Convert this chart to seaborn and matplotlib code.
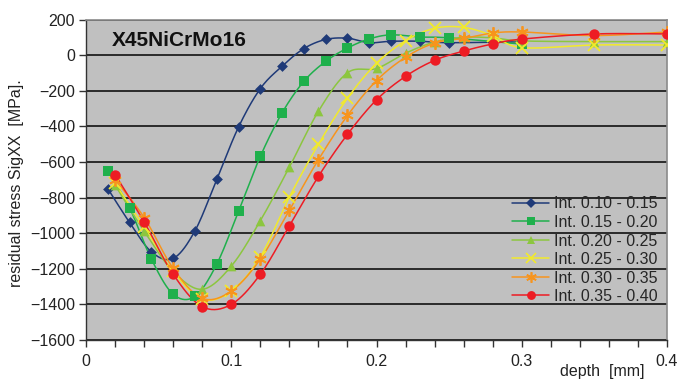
import numpy as np
import pandas as pd
import seaborn as sns
import matplotlib
matplotlib.use("Agg")
import matplotlib.pyplot as plt
from matplotlib.lines import Line2D
from matplotlib.ticker import MultipleLocator

# depth [mm] and residual stress [MPa]
x_a = [0.015, 0.03, 0.045, 0.06, 0.075, 0.09, 0.105, 0.12, 0.135, 0.15, 0.165, 0.18, 0.195, 0.21, 0.23, 0.25, 0.30]
x_b = [0.02, 0.04, 0.06, 0.08, 0.10, 0.12, 0.14, 0.16, 0.18, 0.20, 0.22, 0.24, 0.26, 0.28, 0.30, 0.35, 0.40]

int_010_015 = [-750, -940, -1105, -1142, -987, -698, -404, -188, -62, 37, 88, 95, 70, 78, 78, 70, 75]
int_015_020 = [-651, -858, -1146, -1343, -1355, -1174, -877, -569, -324, -147, -35, 40, 91, 114, 102, 97, 62]
int_020_025 = [-730, -989, -1215, -1315, -1185, -930, -629, -315, -99, -75, 11, 74, 100, 97, 80, 76, 76]
int_025_030 = [-720, -965, -1215, -1371, -1325, -1133, -797, -501, -242, -46, 81, 151, 156, 110, 42, 57, 57]
int_030_035 = [-700, -912, -1198, -1366, -1325, -1146, -871, -587, -339, -143, -12, 68, 94, 124, 130, 110, 130]
int_035_040 = [-671, -937, -1231, -1413, -1400, -1231, -959, -681, -445, -251, -119, -29, 23, 63, 90, 119, 119]

labels = ["Int. 0.10 - 0.15", "Int. 0.15 - 0.20", "Int. 0.20 - 0.25",
          "Int. 0.25 - 0.30", "Int. 0.30 - 0.35", "Int. 0.35 - 0.40"]
series = [(x_a, int_010_015), (x_a, int_015_020), (x_b, int_020_025),
          (x_b, int_025_030), (x_b, int_030_035), (x_b, int_035_040)]
colors = ["#1f3a78", "#1fb04c", "#8cc63f", "#f2ea2a", "#f7941d", "#ed1c24"]
markers = ["D", "s", "^", "x", (6, 2, 0), "o"]
msizes = [5.5, 7, 7, 8, 9, 7.5]


def smooth(x, y, n=20):
    # excel-like smoothed line (bezier segments with 1/6 tangents)
    p = np.column_stack([x, y]).astype(float)
    p = np.vstack([p[0], p, p[-1]])
    out = []
    t = np.linspace(0, 1, n)[:, None]
    for i in range(1, len(p) - 2):
        p0, p1, p2, p3 = p[i - 1], p[i], p[i + 1], p[i + 2]
        c1 = p1 + (p2 - p0) / 6
        c2 = p2 - (p3 - p1) / 6
        seg = (1 - t) ** 3 * p1 + 3 * (1 - t) ** 2 * t * c1 + 3 * (1 - t) * t ** 2 * c2 + t ** 3 * p2
        out.append(seg)
    out = np.vstack(out)
    return out[:, 0], out[:, 1]


sns.set_theme(style="white")
plt.rcParams["font.family"] = ["Liberation Sans", "DejaVu Sans"]

fig, ax = plt.subplots(figsize=(6.91, 3.83), dpi=100)
fig.subplots_adjust(left=0.1245, right=0.9653, top=0.949, bottom=0.1123)
ax.set_facecolor("#c0c0c0")

handles = []
for (xs, ys), lab, c, m, ms in zip(series, labels, colors, markers, msizes):
    sx, sy = smooth(xs, ys)
    ax.plot(sx, sy, color=c, lw=1.1, zorder=3)
    df = pd.DataFrame({"x": xs, "y": ys})
    stroke = m == "x" or isinstance(m, tuple)
    if stroke:
        ax.plot(df["x"], df["y"], ls="none", marker=m, ms=ms, color=c, mew=1.3, zorder=4)
    else:
        sns.scatterplot(data=df, x="x", y="y", ax=ax, marker=m, s=ms ** 2,
                        color=c, edgecolor=c, linewidth=0, zorder=4)
    handles.append(Line2D([], [], color=c, lw=1.1, marker=m, ms=ms * 0.85,
                          mew=1.2 if stroke else 0, label=lab))

ax.set_xlim(0, 0.4)
ax.set_ylim(-1600, 200)
ax.xaxis.set_minor_locator(MultipleLocator(0.02))
ax.yaxis.set_major_locator(MultipleLocator(200))
ax.set_xticks([0, 0.1, 0.2, 0.3, 0.4])
ax.set_xticklabels(["0", "0.1", "0.2", "0.3", "0.4"])

ax.grid(axis="y", color="#111111", lw=1.2)
ax.set_axisbelow(True)
for side in ("left", "bottom"):
    ax.spines[side].set_color("#333333")
    ax.spines[side].set_linewidth(1.0)
for side in ("top", "right"):
    ax.spines[side].set_color("#8a8a8a")
    ax.spines[side].set_linewidth(1.2)

ax.tick_params(axis="both", which="both", direction="out", length=5, width=1,
               color="#333333", labelsize=11.5, labelcolor="#222222", pad=3)
ax.tick_params(axis="x", which="both", bottom=True, pad=5)
ax.tick_params(axis="y", left=True)

ax.set_xlabel("depth  [mm]", fontsize=11.5, color="#222222")
ax.xaxis.set_label_coords(0.888, -0.075)
ax.set_ylabel("residual stress SigXX  [MPa].", fontsize=11.5, color="#222222")
ax.yaxis.set_label_coords(-0.106, 0.49)

ax.text(0.045, 0.963, "X45NiCrMo16", transform=ax.transAxes, fontsize=15,
        fontweight="bold", color="#111111", va="top", ha="left")

ax.legend(handles=handles, loc="center right", bbox_to_anchor=(1.0, 0.28),
          frameon=False, fontsize=11.5, labelspacing=0.22, handlelength=2.3,
          handletextpad=0.3, borderaxespad=0.2)

fig.savefig("out.png", dpi=100)
